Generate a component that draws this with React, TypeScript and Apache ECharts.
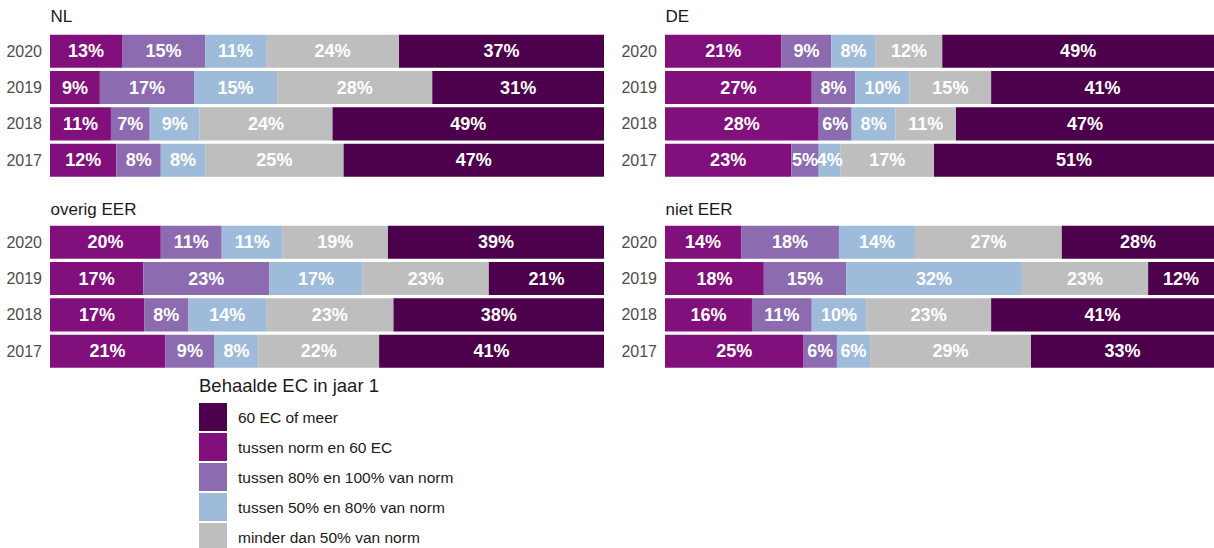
import React, { useEffect, useRef } from "react";
import * as echarts from "echarts";

// Categories (y axis), bottom to top
const years = ["2017", "2018", "2019", "2020"];

// Series in stacking order (left to right)
const seriesNames = [
  "tussen norm en 60 EC",
  "tussen 80% en 100% van norm",
  "tussen 50% en 80% van norm",
  "minder dan 50% van norm",
  "60 EC of meer",
];
const seriesColors = ["#810F7C", "#8C6BB1", "#9EBCDA", "#BEBEBE", "#4D004B"];

// Legend order
const legendOrder = [
  "60 EC of meer",
  "tussen norm en 60 EC",
  "tussen 80% en 100% van norm",
  "tussen 50% en 80% van norm",
  "minder dan 50% van norm",
];
const legendTitle = "Behaalde EC in jaar 1";

const panelNames = ["NL", "DE", "overig EER", "niet EER"];

// Values (%), one row per series (in seriesNames order), columns = years 2017..2020
const nlValues = [
  [12, 11, 9, 13],
  [8, 7, 17, 15],
  [8, 9, 15, 11],
  [25, 24, 28, 24],
  [47, 49, 31, 37],
];
const deValues = [
  [23, 28, 27, 21],
  [5, 6, 8, 9],
  [4, 8, 10, 8],
  [17, 11, 15, 12],
  [51, 47, 41, 49],
];
const overigValues = [
  [21, 17, 17, 20],
  [9, 8, 23, 11],
  [8, 14, 17, 11],
  [22, 23, 23, 19],
  [41, 38, 21, 39],
];
const nietValues = [
  [25, 16, 18, 14],
  [6, 11, 15, 18],
  [6, 10, 32, 14],
  [29, 23, 23, 27],
  [33, 41, 12, 28],
];
const panelValues = [nlValues, deValues, overigValues, nietValues];

const FONT = "'Liberation Sans', Arial, Helvetica, sans-serif";

export default function App() {
  const ref = useRef<HTMLDivElement>(null);

  useEffect(() => {
    document.body.style.margin = "0";
    const chart = echarts.init(ref.current as HTMLDivElement, null, { renderer: "svg" });

    const layout = [
      { left: 50, top: 33, titleY: 16.3 },
      { left: 665, top: 33, titleY: 16.3 },
      { left: 50, top: 224, titleY: 209.7 },
      { left: 665, top: 224, titleY: 209.7 },
    ];
    const W = 554;
    const H = 145.4;

    const grids: any[] = [];
    const xAxes: any[] = [];
    const yAxes: any[] = [];
    const series: any[] = [];
    const graphics: any[] = [];

    panelValues.forEach((vals, pi) => {
      const L = layout[pi];
      grids.push({ left: L.left, top: L.top, width: W, height: H, containLabel: false });
      xAxes.push({
        type: "value",
        gridIndex: pi,
        min: 0,
        max: 100,
        show: false,
      });
      yAxes.push({
        type: "category",
        gridIndex: pi,
        data: years,
        axisLine: { show: false },
        axisTick: { show: false },
        splitLine: { show: false },
        axisLabel: { color: "#4D4D4D", fontSize: 16, fontFamily: FONT, margin: 8 },
      });
      const totals = years.map((_, yi) => vals.reduce((s, row) => s + row[yi], 0));
      vals.forEach((row, si) => {
        series.push({
          type: "bar",
          name: seriesNames[si],
          xAxisIndex: pi,
          yAxisIndex: pi,
          stack: "p" + pi,
          barCategoryGap: "9.2%",
          itemStyle: { color: seriesColors[si] },
          label: {
            show: true,
            position: "inside",
            color: "#FFFFFF",
            fontWeight: "bold",
            fontSize: 18,
            fontFamily: FONT,
            formatter: (p: any) => p.data.raw + "%",
          },
          data: row.map((v, yi) => ({ value: (v / totals[yi]) * 100, raw: v })),
        });
      });
      graphics.push({
        type: "text",
        x: L.left + 0.5,
        y: L.titleY,
        style: {
          text: panelNames[pi],
          fontSize: 17,
          fontFamily: FONT,
          fill: "#1A1A1A",
          verticalAlign: "middle",
          align: "left",
        },
      });
    });

    graphics.push({
      type: "text",
      x: 199,
      y: 385,
      style: {
        text: legendTitle,
        fontSize: 18.5,
        fontFamily: FONT,
        fill: "#1A1A1A",
        verticalAlign: "middle",
        align: "left",
      },
    });

    chart.setOption({
      animation: false,
      grid: grids,
      xAxis: xAxes,
      yAxis: yAxes,
      series,
      graphic: graphics,
      legend: {
        data: legendOrder,
        orient: "vertical",
        left: 199,
        top: 403,
        width: 400,
        height: 200,
        padding: 0,
        itemWidth: 28,
        itemHeight: 28,
        itemGap: 2,
        icon: "rect",
        selectedMode: false,
        textStyle: { fontSize: 15.5, fontFamily: FONT, color: "#1A1A1A", padding: [0, 0, 0, 6] },
      },
    });

    return () => chart.dispose();
  }, []);

  return <div ref={ref} style={{ width: 1214, height: 548 }} />;
}
